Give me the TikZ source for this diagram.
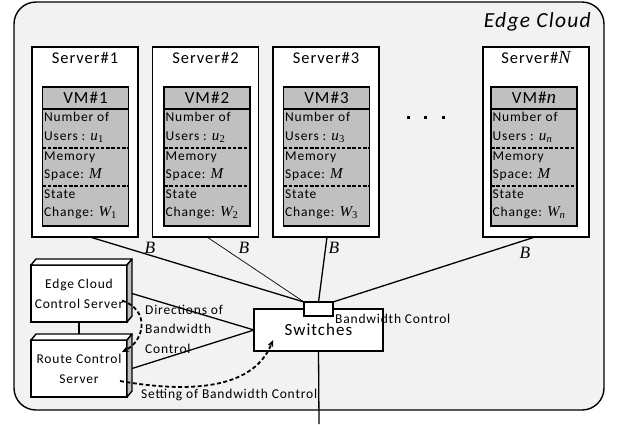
\documentclass[tikz,border=0pt]{standalone}
\usepackage{fontspec}
\setmainfont{Carlito}[LetterSpace=6]
\newfontfamily\tnr{Liberation Serif}[Scale=1.12]
\usetikzlibrary{arrows.meta,positioning}
\definecolor{cloudgray}{HTML}{F2F2F2}
\definecolor{vmgray}{HTML}{C0C0C0}
\definecolor{sidegray}{HTML}{BFBFBF}
\newcommand{\tvar}[1]{{\tnr\itshape #1}}
\newcommand{\tsub}[1]{\textsubscript{\tnr #1}}
\newcommand{\lblfont}{\fontsize{13.5}{19.5}\selectfont}
\tikzset{
    cloudbox/.style  = {draw, line width=1.4pt, fill=cloudgray,
                        rounded corners=22pt, outer sep=0pt,
                        minimum width=590pt, minimum height=408pt},
    cloudlbl/.style  = {inner sep=0pt, font=\fontsize{21.5}{23}\selectfont\itshape},
    serverbox/.style = {draw, line width=1.2pt, fill=white, outer sep=0pt,
                        minimum width=106pt, minimum height=190pt},
    srvlbl/.style    = {inner sep=0pt, font=\fontsize{16.5}{18}\selectfont},
    vmbox/.style     = {draw, line width=1.8pt, fill=vmgray, outer sep=0pt,
                        minimum width=86pt, minimum height=139pt},
    vmsep/.style     = {line width=1.1pt, dash pattern=on 3.5pt off 1.8pt},
    vmhead/.style    = {inner sep=0pt, font=\fontsize{17}{18}\selectfont},
    vmtext/.style    = {anchor=west, inner xsep=1.5pt, inner ysep=0pt,
                        text height=9.5pt, text depth=3pt,
                        font=\fontsize{13.5}{15}\selectfont},
    host/.style      = {draw, line width=1.4pt, fill=white, outer sep=0pt,
                        minimum width=96pt, minimum height=57pt,
                        align=center, font=\fontsize{13.5}{20}\selectfont},
    host face/.style = {line width=1.4pt, line join=round},
    switchbox/.style = {draw, line width=1.4pt, fill=white, outer sep=0pt,
                        minimum width=129pt, minimum height=42pt,
                        font=\fontsize{17}{18}\selectfont},
    bwbox/.style     = {draw, line width=1.4pt, fill=white, outer sep=0pt,
                        minimum width=29pt, minimum height=14pt},
    lbl/.style       = {inner sep=0pt, font=\lblfont},
    blabel/.style    = {inner sep=0pt, font=\fontsize{15.5}{18}\selectfont\tnr\itshape},
    link/.style      = {line width=1.3pt},
    ctrl arrow/.style = {->, line width=1.8pt, dash pattern=on 4pt off 2.5pt}
}
\newcommand{\vmstack}[4]{%
    \node[vmbox] (#1) at (#2,156.5) {};
    \draw[line width=1.2pt] ([yshift=-22pt]#1.north west) -- ([yshift=-22pt]#1.north east);
    \draw[vmsep] ([yshift=-61pt]#1.north west) -- ([yshift=-61pt]#1.north east);
    \draw[vmsep] ([yshift=-99pt]#1.north west) -- ([yshift=-99pt]#1.north east);
    \node[vmhead] (#1-head) at ([yshift=-11pt]#1.north) {#3};
    \node[vmtext] (#1-users) at ([yshift=-31pt]#1.north west) {Number of};
    \node[vmtext] (#1-u) at ([yshift=-50pt]#1.north west) {Users : \tvar{u}\tsub{#4}};
    \node[vmtext] (#1-mem) at ([yshift=-70pt]#1.north west) {Memory};
    \node[vmtext] (#1-m) at ([yshift=-88pt]#1.north west) {Space: \tvar{M}};
    \node[vmtext] (#1-state) at ([yshift=-108pt]#1.north west) {State};
    \node[vmtext] (#1-w) at ([yshift=-126pt]#1.north west) {Change: \tvar{W}\tsub{#4}};
}
\newcommand{\hostbox}[3]{%
    \node[host] (#1) at #2 {#3};
    \filldraw[host face, fill=white] (#1.north west) -- ++(5,-6)
        -- ([shift={(5,-6)}]#1.north east) -- (#1.north east) -- cycle;
    \filldraw[host face, fill=sidegray] (#1.north east) -- ++(5,-6)
        -- ([shift={(5,-6)}]#1.south east) -- (#1.south east) -- cycle;
}

\begin{document}
\begin{tikzpicture}[x=1pt, y=-1pt, >={Stealth[length=7pt, width=6pt]}]
\useasboundingbox (0,0) rectangle (617,424);

% Edge cloud enclosure
\node[cloudbox] (cloud) at (309,206) {};
\node[cloudlbl, anchor=east] (cloud-lbl) at (591,22) {Edge Cloud};

% Servers, each hosting one VM
\node[serverbox] (srv1) at (85,142) {};
\node[srvlbl] (srv1-lbl) at ([yshift=-11pt]srv1.north) {Server\#1};
\node[serverbox] (srv2) at (205.5,142) {};
\node[srvlbl] (srv2-lbl) at ([yshift=-11pt]srv2.north) {Server\#2};
\node[serverbox] (srv3) at (326,142) {};
\node[srvlbl] (srv3-lbl) at ([yshift=-11pt]srv3.north) {Server\#3};
\node[serverbox] (srvN) at (536,142) {};
\node[srvlbl] (srvN-lbl) at ([yshift=-11pt]srvN.north) {Server\#\tvar{N}};
\vmstack{vm1}{85.5}{VM\#1}{1}
\vmstack{vm2}{207}{VM\#2}{2}
\vmstack{vm3}{326.5}{VM\#3}{3}
\vmstack{vmn}{534}{VM\#\tvar{n}}{\itshape n}
\foreach \x in {408,425,443}
    \fill (\x-1.5,115.5) rectangle ++(3,3);

% Switches and bandwidth control
\node[switchbox] (sw) at (318.5,330) {Switches};
\node[bwbox] (bwc) at (318.5,309) {};
\node[lbl, anchor=west] (bwc-lbl) at ([xshift=2pt,yshift=-3pt]bwc.south east) {Bandwidth Control};
\coordinate (uplink) at (319,424);
\draw[link] (sw.south) -- (uplink);

\draw[link] ([xshift=5pt]srv1.south) -- (bwc.north west);
\draw[line width=0.7pt] ([xshift=1.5pt]srv2.south) -- (bwc.north west);
\draw[link] ([xshift=1pt]srv3.south) -- (bwc.north);
\draw[link] ([xshift=-1pt]srvN.south) -- (bwc.north east);
\node[blabel] (b1) at (150,248) {B};
\node[blabel] (b2) at (244,248) {B};
\node[blabel] (b3) at (334,248) {B};
\node[blabel] (bN) at (525,253) {B};

% Control servers
\hostbox{ecc}{(79,293.5)}{Edge Cloud\\Control Server}
\hostbox{rcs}{(79,368.5)}{Route Control\\Server}
\draw[link] (ecc.south) -- ([yshift=6pt]rcs.north);
\draw[link] ([xshift=5pt]ecc.east) -- (sw.west);
\draw[link] ([xshift=5pt]rcs.east) -- (sw.west);
\node[lbl, align=left, anchor=west] (dir-lbl) at (145,329) {Directions of\\Bandwidth\\Control};
\node[lbl, anchor=west] (set-lbl) at (141,395) {Setting of Bandwidth Control};
\draw[ctrl arrow] ([xshift=-5pt,yshift=-7pt]ecc.east)
    .. controls (150,310) and (145,340) .. ([xshift=-5pt,yshift=-12pt]rcs.north east);
\draw[ctrl arrow] ([xshift=-7pt,yshift=-12.5pt]rcs.east)
    .. controls (200,395) and (255,385) .. ([xshift=19pt,yshift=11pt]sw.south west);

\end{tikzpicture}
\end{document}
